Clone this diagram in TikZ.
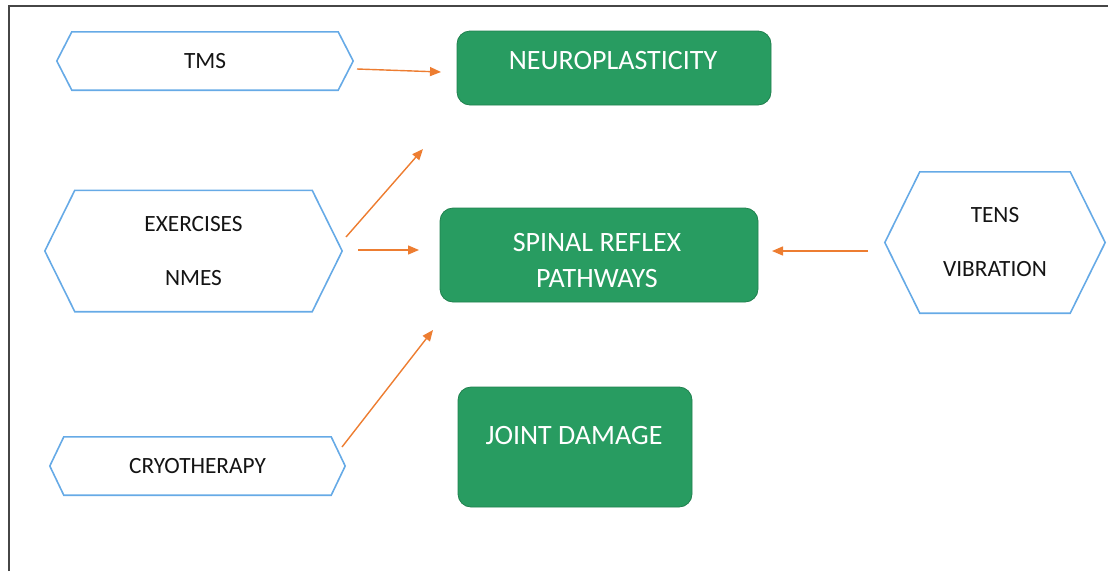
\documentclass[tikz,border=0pt]{standalone}
\usepackage{fontspec}
\setmainfont{Carlito}
\usetikzlibrary{arrows.meta}
\definecolor{hexblue}{RGB}{102,170,230}
\definecolor{boxgreen}{RGB}{40,156,97}
\definecolor{boxedge}{RGB}{32,128,78}
\definecolor{arrorange}{RGB}{237,125,49}
\definecolor{txtdark}{RGB}{20,20,20}
\definecolor{framegray}{RGB}{70,70,70}
\tikzset{
  hexn/.style={rectangle, inner sep=0pt, text=txtdark, font=\fontsize{23.3}{54}\selectfont, align=center},
  hexline/.style={draw=hexblue, line width=1.6pt, line join=miter},
  gbox/.style={rectangle, rounded corners=13pt, fill=boxgreen, draw=boxedge, line width=0.8pt, inner sep=0pt},
  gtext/.style={text=white, font=\fontsize{28}{36}\selectfont, align=center, inner sep=0pt},
  arr/.style={draw=arrorange, line width=1.4pt, -{Triangle[length=11pt,width=9pt]}}
}
\begin{document}
\begin{tikzpicture}[x=1pt,y=-1pt]
\useasboundingbox (0,0) rectangle (1108,571);
% frame
\draw[framegray, line width=2pt] (9,571) -- (9,6) -- (1108,6);
% hexagon nodes
\node[hexn, minimum width=296pt, minimum height=58pt] (tms) at (205,61) {TMS};
\node[hexn, minimum width=297pt, minimum height=121pt] (ex) at (193.5,251) {EXERCISES\\NMES};
\node[hexn, minimum width=220pt, minimum height=141pt] (tens) at (995,242.5) {TENS\\VIBRATION};
\node[hexn, minimum width=295pt, minimum height=58pt] (cryo) at (197.5,466) {CRYOTHERAPY};
\foreach \n/\d in {tms/15, ex/30, tens/35, cryo/14}
  \draw[hexline] (\n.west) -- ([xshift=\d pt]\n.north west) -- ([xshift=-\d pt]\n.north east) -- (\n.east) -- ([xshift=-\d pt]\n.south east) -- ([xshift=\d pt]\n.south west) -- cycle;
% green boxes
\node[gbox, minimum width=314pt, minimum height=74pt] (neuro) at (614,68) {};
\node[gbox, minimum width=318pt, minimum height=94pt] (spinal) at (599,255) {};
\node[gbox, minimum width=234pt, minimum height=120pt] (joint) at (575,447) {};
\node[gtext] (neurot) at (613,61) {NEUROPLASTICITY};
\node[gtext] (spinalt) at (597,261) {SPINAL REFLEX\\PATHWAYS};
\node[gtext] (jointt) at (574,436) {JOINT DAMAGE};
% arrow end points
\coordinate (a1s) at (357,69);  \coordinate (a1e) at (441,72);
\coordinate (a2s) at (346,237); \coordinate (a2e) at (423,149);
\coordinate (a3s) at (358,250); \coordinate (a3e) at (419,250);
\coordinate (a4s) at (342,447); \coordinate (a4e) at (433,330);
\coordinate (a5s) at (868,251); \coordinate (a5e) at (772,251);
\draw[arr] (a1s) -- (a1e);
\draw[arr] (a2s) -- (a2e);
\draw[arr] (a3s) -- (a3e);
\draw[arr] (a4s) -- (a4e);
\draw[arr] (a5s) -- (a5e);
\end{tikzpicture}
\end{document}
